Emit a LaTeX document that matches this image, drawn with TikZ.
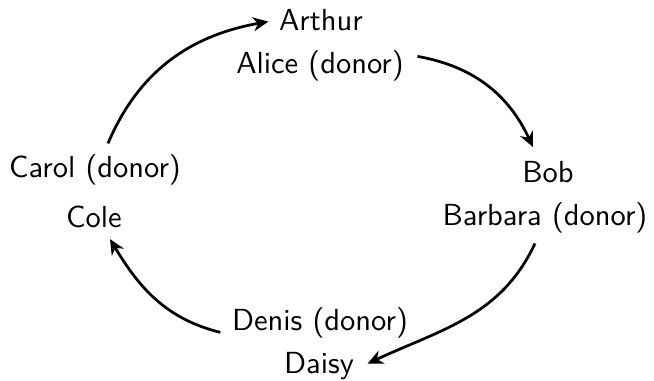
\documentclass[tikz,border=0pt]{standalone}
\usetikzlibrary{calc,arrows.meta}
\begin{document}
\begin{tikzpicture}[x=0.328pt,y=0.328pt,
  person/.style={font=\sffamily,anchor=base},
  link/.style={line width=0.9pt,-{Stealth[length=5pt,width=4.6pt,inset=1.6pt]}}]
\useasboundingbox (0,0) rectangle (654,380);
\node[person] (arthur)  at (321,350) {Arthur};
\node[person] (alice)   at (320,307) {Alice (donor)};
\node[person] (bob)     at (548,198) {Bob};
\node[person] (barbara) at (545,155) {Barbara (donor)};
\node[person] (carol)   at (95,203)  {Carol (donor)};
\node[person] (cole)    at (94,153)  {Cole};
\node[person] (denis)   at (320,50)  {Denis (donor)};
\node[person] (daisy)   at (319,7)   {Daisy};
\draw[link] ($(carol.north)+(13,0)$) to[out=67,in=190] ($(arthur.west)+(0,-2)$);
\draw[link] ($(alice.east)+(3,9)$) to[out=-10,in=115] ($(bob.north)+(-15,3)$);
\draw[link] ($(barbara.south)+(-10,0)$) to[out=245,in=25] ($(daisy.east)+(3,2)$);
\draw[link] ($(denis.west)+(-1,-10)$) to[out=166,in=-59] ($(cole.south)+(16,-1)$);
\end{tikzpicture}
\end{document}
